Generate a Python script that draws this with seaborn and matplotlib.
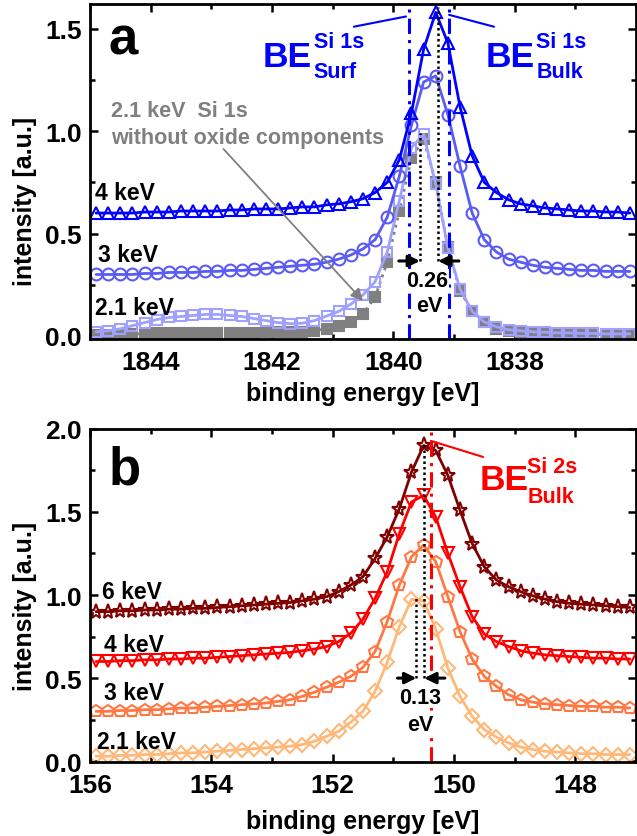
import matplotlib
matplotlib.use("Agg")
import matplotlib.pyplot as plt
from matplotlib.ticker import MultipleLocator, FormatStrFormatter
import seaborn as sns

# ---- panel a: Si 1s spectra (binding energy in eV) ----
energy_si1s = [1844.9, 1844.7, 1844.5, 1844.3, 1844.1, 1843.9, 1843.7, 1843.5, 1843.3, 1843.1,
               1842.9, 1842.7, 1842.5, 1842.3, 1842.1, 1841.9, 1841.7, 1841.5, 1841.3, 1841.1,
               1840.9, 1840.7, 1840.5, 1840.3, 1840.1, 1839.9, 1839.7, 1839.5, 1839.3, 1839.1,
               1838.9, 1838.7, 1838.5, 1838.3, 1838.1, 1837.9, 1837.7, 1837.5, 1837.3, 1837.1,
               1836.9, 1836.7, 1836.5, 1836.3, 1836.1]
si1s_4kev = [0.60, 0.60, 0.60, 0.60, 0.605, 0.605, 0.605, 0.61, 0.61, 0.61,
             0.61, 0.615, 0.615, 0.62, 0.62, 0.62, 0.625, 0.63, 0.63, 0.64,
             0.645, 0.655, 0.67, 0.70, 0.75, 0.86, 1.09, 1.40, 1.58, 1.43,
             1.12, 0.88, 0.75, 0.70, 0.665, 0.645, 0.635, 0.625, 0.62, 0.615,
             0.61, 0.61, 0.605, 0.605, 0.60]
si1s_3kev = [0.30, 0.30, 0.30, 0.30, 0.305, 0.305, 0.31, 0.31, 0.31, 0.315,
             0.315, 0.32, 0.32, 0.325, 0.33, 0.335, 0.34, 0.345, 0.35, 0.36,
             0.375, 0.395, 0.425, 0.47, 0.58, 0.78, 1.03, 1.24, 1.27, 1.08,
             0.83, 0.60, 0.47, 0.41, 0.375, 0.36, 0.345, 0.335, 0.33, 0.325,
             0.32, 0.32, 0.315, 0.315, 0.315]
si1s_21kev = [0.02, 0.025, 0.035, 0.05, 0.065, 0.08, 0.09, 0.095, 0.10, 0.105,
              0.105, 0.10, 0.095, 0.085, 0.075, 0.065, 0.06, 0.062, 0.075, 0.097,
              0.12, 0.155, 0.20, 0.265, 0.41, 0.66, 0.92, 0.985, 0.74, 0.43,
              0.23, 0.12, 0.068, 0.045, 0.03, 0.025, 0.02, 0.018, 0.015, 0.015,
              0.012, 0.012, 0.01, 0.01, 0.01]
si1s_21kev_no_oxide = [0.005, 0.005, 0.008, 0.01, 0.01, 0.012, 0.012, 0.013, 0.013, 0.014,
                       0.014, 0.015, 0.015, 0.016, 0.017, 0.018, 0.019, 0.02, 0.025, 0.035,
                       0.05, 0.07, 0.105, 0.19, 0.36, 0.61, 0.87, 0.96, 0.75, 0.435,
                       0.22, 0.12, 0.07, 0.035, 0.025, 0.02, 0.015, 0.012, 0.01, 0.01,
                       0.008, 0.008, 0.006, 0.006, 0.005]
be_si1s = [1839.74, 1839.08]       # surface / bulk reference lines
peaks_si1s = [1839.56, 1839.26]    # 2.1 keV / 4 keV peak maxima
peak_tops_si1s = [0.99, 1.607]

# ---- panel b: Si 2s spectra ----
energy_si2s = [155.9, 155.7, 155.5, 155.3, 155.1, 154.9, 154.7, 154.5, 154.3, 154.1,
               153.9, 153.7, 153.5, 153.3, 153.1, 152.9, 152.7, 152.5, 152.3, 152.1,
               151.9, 151.7, 151.5, 151.3, 151.1, 150.9, 150.7, 150.5, 150.3, 150.1,
               149.9, 149.7, 149.5, 149.3, 149.1, 148.9, 148.7, 148.5, 148.3, 148.1,
               147.9, 147.7, 147.5, 147.3, 147.1]
si2s_6kev = [0.90, 0.90, 0.905, 0.905, 0.91, 0.91, 0.915, 0.915, 0.92, 0.92,
             0.925, 0.93, 0.935, 0.94, 0.945, 0.95, 0.955, 0.965, 0.975, 0.99,
             1.02, 1.06, 1.11, 1.22, 1.35, 1.52, 1.74, 1.90, 1.87, 1.72,
             1.51, 1.31, 1.17, 1.09, 1.05, 1.02, 0.995, 0.975, 0.96, 0.95,
             0.945, 0.94, 0.935, 0.93, 0.925]
si2s_4kev = [0.60, 0.60, 0.605, 0.605, 0.61, 0.61, 0.615, 0.615, 0.62, 0.62,
             0.625, 0.63, 0.635, 0.64, 0.645, 0.65, 0.655, 0.665, 0.675, 0.69,
             0.72, 0.77, 0.855, 0.98, 1.14, 1.37, 1.56, 1.60, 1.47, 1.25,
             1.05, 0.87, 0.765, 0.72, 0.69, 0.665, 0.65, 0.64, 0.635, 0.63,
             0.625, 0.62, 0.62, 0.615, 0.615]
si2s_3kev = [0.30, 0.30, 0.305, 0.305, 0.31, 0.31, 0.315, 0.32, 0.32, 0.325,
             0.33, 0.335, 0.34, 0.345, 0.35, 0.36, 0.37, 0.39, 0.415, 0.445,
             0.475, 0.51, 0.565, 0.66, 0.84, 1.06, 1.23, 1.30, 1.20, 0.99,
             0.78, 0.615, 0.51, 0.45, 0.40, 0.37, 0.355, 0.345, 0.34, 0.335,
             0.33, 0.33, 0.325, 0.325, 0.32]
si2s_21kev = [0.03, 0.03, 0.035, 0.035, 0.04, 0.04, 0.045, 0.05, 0.05, 0.055,
              0.06, 0.065, 0.07, 0.075, 0.08, 0.085, 0.09, 0.10, 0.12, 0.15,
              0.18, 0.235, 0.30, 0.42, 0.595, 0.81, 0.975, 0.965, 0.795, 0.56,
              0.39, 0.27, 0.19, 0.145, 0.11, 0.085, 0.07, 0.06, 0.055, 0.05,
              0.045, 0.045, 0.04, 0.04, 0.04]
be_si2s = 150.38
peaks_si2s = [150.62, 150.49]
peak_tops_si2s = [0.99, 1.90]

# Estilo
sns.set_theme(style="ticks")
plt.rcParams["font.family"] = ["Liberation Sans", "DejaVu Sans"]
plt.rcParams["font.weight"] = "bold"
plt.rcParams["axes.labelweight"] = "bold"
plt.rcParams["text.color"] = "black"
plt.rcParams["axes.labelcolor"] = "black"

fig = plt.figure(figsize=(6.37, 8.37), dpi=100)
ax_a = fig.add_axes([0.1413, 0.5938, 0.857, 0.400])
ax_b = fig.add_axes([0.1413, 0.0884, 0.857, 0.398])

ARROW = dict(arrowstyle="-|>", color="black", lw=2.2, mutation_scale=17, shrinkA=0, shrinkB=0)
WHITE = dict(facecolor="white", edgecolor="none", pad=0.5)


def curve(ax, x, y, color, marker, ms, ls="-", filled=False):
    sns.lineplot(x=x, y=y, ax=ax, color=color, linewidth=2.0, linestyle=ls,
                 marker=marker, markersize=ms, markeredgewidth=1.5,
                 markeredgecolor=color,
                 markerfacecolor=color if filled else "none")


def style_axes(ax, xlim, ylim, xticks, ylabel_y, xlabel_y):
    ax.set_xlim(*xlim)
    ax.set_ylim(*ylim)
    ax.set_xticks(xticks)
    ax.xaxis.set_minor_locator(MultipleLocator(1))
    ax.yaxis.set_major_locator(MultipleLocator(0.5))
    ax.yaxis.set_minor_locator(MultipleLocator(0.25))
    ax.yaxis.set_major_formatter(FormatStrFormatter("%.1f"))
    ax.tick_params(which="both", direction="in", top=True, right=True,
                   width=1.8, labelsize=19, colors="black")
    ax.tick_params(axis="x", pad=8)
    ax.tick_params(axis="y", pad=6)
    ax.tick_params(which="major", length=6)
    ax.tick_params(which="minor", length=3.5)
    for s in ax.spines.values():
        s.set_linewidth(2.0)
        s.set_color("black")
    ax.set_xlabel("binding energy [eV]", fontsize=18)
    ax.set_ylabel("intensity [a.u.]", fontsize=18)
    ax.xaxis.set_label_coords(0.5, xlabel_y)
    ax.yaxis.set_label_coords(-0.097, ylabel_y)
    ax.set_facecolor("white")


# Painel a
curve(ax_a, energy_si1s, si1s_21kev_no_oxide, "#808080", "s", 6.5, ls=":", filled=True)
curve(ax_a, energy_si1s, si1s_21kev, "#a0a0ff", "s", 7.5)
curve(ax_a, energy_si1s, si1s_3kev, "#5a5af5", "o", 8.5)
curve(ax_a, energy_si1s, si1s_4kev, "#0000ff", "^", 9)
style_axes(ax_a, (1845, 1836), (-0.015, 1.62), [1844, 1842, 1840, 1838], 0.415, -0.124)

for xb in be_si1s:
    ax_a.axvline(xb, color="#0000ff", lw=2.2, ls=(0, (5, 2, 1, 2)))
for xp, yt in zip(peaks_si1s, peak_tops_si1s):
    ax_a.plot([xp, xp], [0.366, yt], color="black", lw=1.8, ls=(0, (1, 1.2)))
ax_a.annotate("", xy=(peaks_si1s[0], 0.366), xytext=(1839.91, 0.366), arrowprops=ARROW)
ax_a.annotate("", xy=(peaks_si1s[1], 0.366), xytext=(1838.92, 0.366), arrowprops=ARROW)
ax_a.text(1839.44, 0.27, "0.26", fontsize=15.5, ha="center", va="center", bbox=WHITE, zorder=5)
ax_a.text(1839.40, 0.147, "eV", fontsize=15.5, ha="center", va="center", bbox=WHITE, zorder=5)

ax_a.text(1844.7, 1.378, "a", fontsize=38, ha="left", va="baseline")
ax_a.text(1844.92, 0.70, "4 keV", fontsize=16.5, ha="left", va="center")
ax_a.text(1844.87, 0.40, "3 keV", fontsize=16.5, ha="left", va="center")
ax_a.text(1844.92, 0.14, "2.1 keV", fontsize=16.5, ha="left", va="center")

ax_a.text(1844.66, 1.10, "2.1 keV  Si 1s", fontsize=15.5, color="#808080", ha="left", va="center")
ax_a.text(1844.66, 0.97, "without oxide components", fontsize=15.5, color="#808080",
          ha="left", va="center")
ax_a.annotate("", xy=(1840.50, 0.171), xytext=(1842.80, 0.913),
              arrowprops=dict(arrowstyle="-|>", color="#808080", lw=1.3, mutation_scale=18,
                              shrinkA=0, shrinkB=0))

# BE labels (panel a)
ax_a.text(1842.16, 1.319, "BE", fontsize=25.5, color="#0000ff", va="baseline")
ax_a.text(1841.31, 1.412, "Si 1s", fontsize=15.5, color="#0000ff", va="baseline")
ax_a.text(1841.31, 1.265, "Surf", fontsize=15.5, color="#0000ff", va="baseline")
ax_a.plot([1840.65, 1839.79], [1.51, 1.56], color="#0000ff", lw=1.5)
ax_a.text(1838.47, 1.319, "BE", fontsize=25.5, color="#0000ff", va="baseline")
ax_a.text(1837.64, 1.412, "Si 1s", fontsize=15.5, color="#0000ff", va="baseline")
ax_a.text(1837.64, 1.265, "Bulk", fontsize=15.5, color="#0000ff", va="baseline")
ax_a.plot([1839.08, 1838.34], [1.568, 1.51], color="#0000ff", lw=1.5)

# Painel b
curve(ax_b, energy_si2s, si2s_21kev, "#ffb878", "D", 7)
curve(ax_b, energy_si2s, si2s_3kev, "#ff7844", "p", 9)
curve(ax_b, energy_si2s, si2s_4kev, "#ff0000", "v", 9)
curve(ax_b, energy_si2s, si2s_6kev, "#800000", "*", 11)
style_axes(ax_b, (156, 147), (-0.005, 2.0), [156, 154, 152, 150, 148], 0.471, -0.142)

ax_b.axvline(be_si2s, color="#ff0000", lw=2.2, ls=(0, (5, 2, 1, 2)))
for xp, yt in zip(peaks_si2s, peak_tops_si2s):
    ax_b.plot([xp, xp], [0.50, yt], color="black", lw=1.8, ls=(0, (1, 1.2)))
ax_b.annotate("", xy=(peaks_si2s[0], 0.50), xytext=(150.93, 0.50), arrowprops=ARROW)
ax_b.annotate("", xy=(peaks_si2s[1], 0.50), xytext=(150.15, 0.50), arrowprops=ARROW)
ax_b.text(150.56, 0.385, "0.13", fontsize=15.5, ha="center", va="center", bbox=WHITE, zorder=5)
ax_b.text(150.56, 0.223, "eV", fontsize=15.5, ha="center", va="center", bbox=WHITE, zorder=5)

ax_b.text(155.70, 1.669, "b", fontsize=38, ha="left", va="baseline")
ax_b.text(155.80, 1.02, "6 keV", fontsize=16.5, ha="left", va="center")
ax_b.text(155.77, 0.705, "4 keV", fontsize=16.5, ha="left", va="center")
ax_b.text(155.77, 0.415, "3 keV", fontsize=16.5, ha="left", va="center")
ax_b.text(155.88, 0.12, "2.1 keV", fontsize=16.5, ha="left", va="center")

ax_b.text(149.57, 1.639, "BE", fontsize=25.5, color="#ff0000", va="baseline")
ax_b.text(148.79, 1.741, "Si 2s", fontsize=15.5, color="#ff0000", va="baseline")
ax_b.text(148.79, 1.560, "Bulk", fontsize=15.5, color="#ff0000", va="baseline")
ax_b.plot([150.38, 149.52], [1.928, 1.831], color="#ff0000", lw=1.5)

fig.savefig("out.png", dpi=100, facecolor="white")
